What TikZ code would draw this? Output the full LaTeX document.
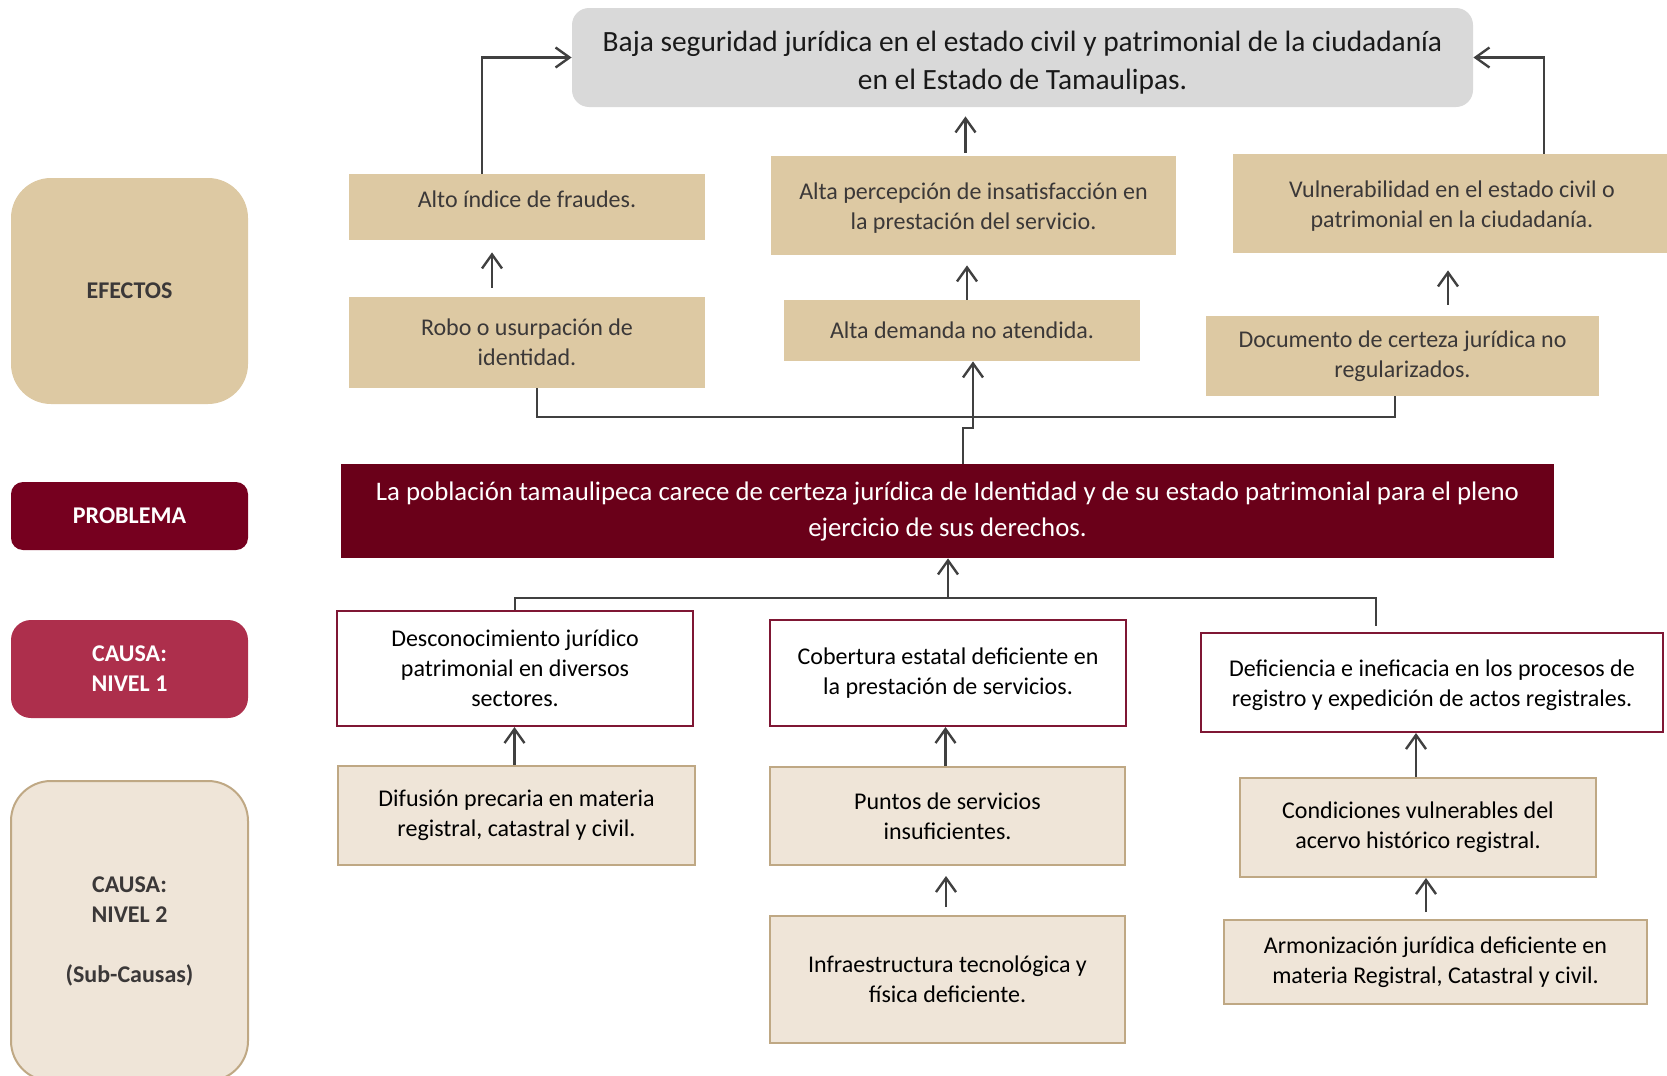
\documentclass[tikz,border=0pt]{standalone}
\usepackage{fontspec}
\setmainfont{Carlito}
\usepackage{tikz}
\usetikzlibrary{shapes, arrows.meta, positioning, calc}
\definecolor{arena}{HTML}{DDC9A3}
\definecolor{crema}{HTML}{EFE5D8}
\definecolor{cremaborde}{HTML}{BFA884}
\definecolor{vino}{HTML}{6A0019}
\definecolor{vinoclaro}{HTML}{76001F}
\definecolor{guinda}{HTML}{AD2F4C}
\definecolor{causaborde}{HTML}{7F1734}
\definecolor{gristope}{HTML}{D9D9D9}
\definecolor{textogris}{HTML}{3B3838}
\definecolor{linea}{HTML}{404040}
\newcommand{\bajar}[2]{\raisebox{-#1}[\height][\depth]{#2}}

\begin{document}
\begin{tikzpicture}[x=0.5pt, y=-0.5pt,
		caja/.style={rectangle, inner sep=0pt, align=center, font=\fontsize{12}{15}\selectfont},
		efecto/.style={caja, fill=arena, text=textogris},
		causa/.style={caja, fill=white, draw=causaborde, line width=1pt, text=black},
		subcausa/.style={caja, fill=crema, draw=cremaborde, line width=1pt, text=black},
		etiqueta/.style={caja, rounded corners=#1, minimum width=118.5pt, font=\fontsize{12}{15}\selectfont\bfseries},
		flecha/.style={draw=linea, line width=1.2pt, -{Straight Barb[length=7pt,width=10pt]}},
		conector/.style={draw=linea, line width=1.2pt}]
	\useasboundingbox (0,0) rectangle (1667,1076);
	\clip (0,0) rectangle (1667,1076);

	% columna de etiquetas
	\node[etiqueta=20pt, fill=arena, text=textogris, minimum height=113pt] (efectos) at (129.5,291) {EFECTOS};
	\node[etiqueta=6pt, fill=vinoclaro, text=white, minimum height=34pt] (lblproblema) at (129.5,516) {PROBLEMA};
	\node[etiqueta=10pt, fill=guinda, text=white, minimum height=49pt] (nivel1) at (129.5,669) {CAUSA:\\NIVEL 1};
	\node[etiqueta=20pt, fill=crema, draw=cremaborde, line width=1pt, text=textogris, minimum height=150pt] (nivel2) at (129.5,931) {CAUSA:\\NIVEL 2\\[15pt](Sub-Causas)};

	% efectos
	\node[caja, fill=gristope, rounded corners=8.5pt, text=black!90, font=\fontsize{14.7}{19}\selectfont, minimum width=450.5pt, minimum height=49.5pt] (tope) at (1022.5,57.5) {\bajar{2.7pt}{Baja seguridad jurídica en el estado civil y patrimonial de la ciudadanía}\\\bajar{2.7pt}{en el Estado de Tamaulipas.}};
	\node[efecto, minimum width=178pt, minimum height=33pt] (fraudes) at (527,207) {\bajar{-3.7pt}{Alto índice de fraudes.}};
	\node[efecto, minimum width=178pt, minimum height=45.5pt] (robo) at (527,342.5) {Robo o usurpación de\\identidad.};
	\node[efecto, minimum width=202.5pt, minimum height=49.5pt] (percepcion) at (973.5,205.5) {\bajar{1.5pt}{Alta percepción de insatisfacción en}\\\bajar{1.5pt}{la prestación del servicio.}};
	\node[efecto, minimum width=178pt, minimum height=30.5pt] (demanda) at (962,330.5) {Alta demanda no atendida.};
	\node[efecto, minimum width=219pt, minimum height=49.5pt] (vulnera) at (1452,203.5) {\bajar{1.5pt}{Vulnerabilidad en el estado civil o}\\\bajar{1.5pt}{patrimonial en la ciudadanía.}};
	\node[efecto, minimum width=196.5pt, minimum height=40pt] (documento) at (1402.5,356) {Documento de certeza jurídica no\\regularizados.};

	% problema
	\node[caja, fill=vino, text=white, font=\fontsize{13.4}{18}\selectfont, minimum width=606.5pt, minimum height=47pt] (problema) at (947.5,511) {La población tamaulipeca carece de certeza jurídica de Identidad y de su estado patrimonial para el pleno\\ejercicio de sus derechos.};

	% causas
	\node[causa, minimum width=178pt, minimum height=57.5pt] (desconoc) at (515,668.5) {Desconocimiento jurídico\\patrimonial en diversos\\sectores.};
	\node[causa, minimum width=178pt, minimum height=53pt] (cobertura) at (948,673) {Cobertura estatal deficiente en\\la prestación de servicios.};
	\node[causa, minimum width=231pt, minimum height=49.5pt] (deficiencia) at (1432,682.5) {\bajar{1.5pt}{Deficiencia e ineficacia en los procesos de}\\\bajar{1.5pt}{registro y expedición de actos registrales.}};
	\node[subcausa, minimum width=178.5pt, minimum height=49.5pt] (difusion) at (516.5,815.5) {Difusión precaria en materia\\registral, catastral y civil.};
	\node[subcausa, minimum width=177.5pt, minimum height=49pt] (puntos) at (947.5,816) {Puntos de servicios\\insuficientes.};
	\node[subcausa, minimum width=177.5pt, minimum height=63.5pt] (infra) at (947.5,979.5) {Infraestructura tecnológica y\\física deficiente.};
	\node[subcausa, minimum width=178pt, minimum height=49.5pt] (condiciones) at (1418,827.5) {Condiciones vulnerables del\\acervo histórico registral.};
	\node[subcausa, minimum width=211.5pt, minimum height=42pt] (armoniza) at (1435.5,962) {Armonización jurídica deficiente en\\materia Registral, Catastral y civil.};

	% conectores
	\coordinate (efbus) at (0,417);
	\coordinate (salto) at (0,428);
	\coordinate (cabus) at (0,598);
	\coordinate (rb) at ([xshift=5pt]robo.south);
	\coordinate (db) at ([xshift=-3.75pt]documento.south);
	\coordinate (pb) at ([xshift=7.75pt]problema.north);
	\coordinate (dm) at ([xshift=5.5pt]demanda.south);
	\coordinate (df) at ([xshift=-28pt]deficiencia.north);

	\draw[flecha] ([xshift=-22.5pt]fraudes.north) |- (tope.west);
	\draw[flecha] ([xshift=46pt]vulnera.north) |- (tope.east);
	\draw[flecha, shorten <=4.5pt, shorten >=6pt] ([xshift=-17.5pt]robo.north) -- ([xshift=-17.5pt]robo.north |- fraudes.south);
	\draw[flecha, shorten <=1.5pt, shorten >=4.5pt] ([xshift=-4pt]percepcion.north) -- ([xshift=-4pt]percepcion.north |- tope.south);
	\draw[flecha, shorten >=5pt] ([xshift=2.5pt]demanda.north) -- ([xshift=2.5pt]demanda.north |- percepcion.south);
	\draw[flecha, shorten <=5.5pt, shorten >=8.5pt] ([xshift=22.75pt]documento.north) -- ([xshift=22.75pt]documento.north |- vulnera.south);
	\draw[conector] (rb) |- (efbus -| db) -- (db);
	\draw[flecha] (pb) |- (salto -| dm) -- (dm);

	\draw[conector, shorten >=3pt] (desconoc.north) |- (cabus -| df) -- (df);
	\draw[flecha] (cabus -| cobertura.north) -- (problema.south -| cobertura.north);
	\foreach \desde/\hacia in {difusion/desconoc, puntos/cobertura, condiciones/deficiencia}
		\draw[flecha] ([xshift=-1pt]\desde.north) -- ([xshift=-1pt]\desde.north |- \hacia.south);
	\draw[flecha, shorten <=4pt, shorten >=5pt] ([xshift=-0.75pt]infra.north) -- ([xshift=-0.75pt]infra.north |- puntos.south);
	\draw[flecha, shorten <=3.5pt] ([xshift=-4.75pt]armoniza.north) -- ([xshift=-4.75pt]armoniza.north |- condiciones.south);
\end{tikzpicture}
\end{document}
